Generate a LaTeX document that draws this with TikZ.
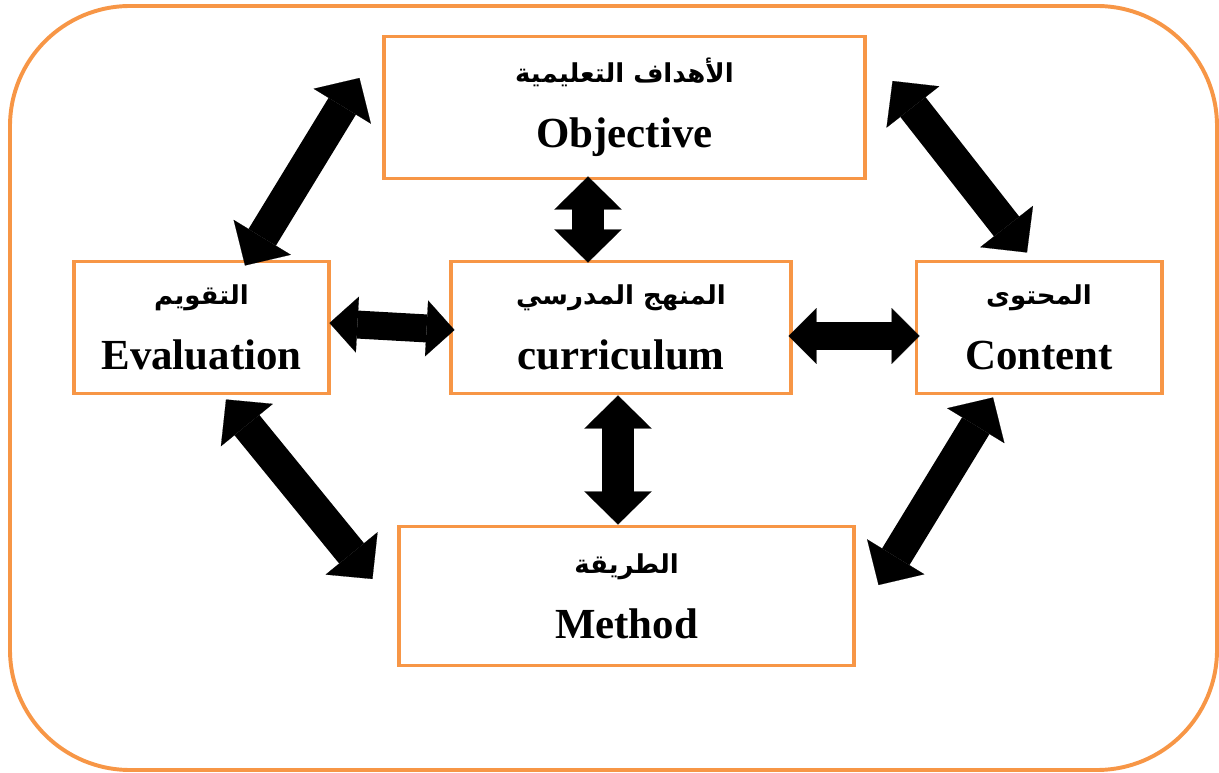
\documentclass[tikz,border=0pt]{standalone}
\usepackage{fontspec}
\setmainfont{Liberation Serif}
\newfontfamily\arabicfont[Script=Arabic]{DejaVu Sans}
\TeXXeTstate=1
\usetikzlibrary{arrows.meta,calc}

\definecolor{boxorange}{RGB}{247,150,70}

\tikzset{
  topic/.style={draw=boxorange, line width=2.8pt, align=center, inner sep=0pt,
    font=\bfseries\fontsize{30.5}{46}\selectfont},
  dblarrow/.style={line width=22.8pt, {Triangle[width=47.7pt, length=23.5pt, line width=0.1pt]}-{Triangle[width=47.7pt, length=23.5pt, line width=0.1pt]}},
  dblarrowsmall/.style={line width=19.9pt, {Triangle[width=39.8pt, length=19.9pt, line width=0.1pt]}-{Triangle[width=39.8pt, length=19.9pt, line width=0.1pt]}}
}

% Arabic line above the English one
\newcommand{\twolines}[2]{{\arabicfont\fontsize{18.5}{46}\selectfont\beginR #1\endR}\\#2}

\begin{document}
\begin{tikzpicture}[x=0.025cm, y=0.025cm]
  \useasboundingbox (0,0) rectangle (1219,772);

  % frame
  \draw[boxorange, line width=2.8pt, rounded corners=3cm] (10,2) rectangle (1217,766);

  % boxes
  \node[topic, minimum width=12cm, minimum height=3.55cm] (obj) at (624.5,664.5)
       {\twolines{الأهداف التعليمية}{Objective}};
  \node[topic, minimum width=6.375cm, minimum height=3.3cm] (eval) at (201.5,444.5)
       {\twolines{التقويم}{Evaluation}};
  \node[topic, minimum width=8.475cm, minimum height=3.3cm] (cur) at (621,444.5)
       {\twolines{المنهج المدرسي}{curriculum}};
  \node[topic, minimum width=6.125cm, minimum height=3.3cm] (cont) at (1039,444.5)
       {\twolines{المحتوى}{Content}};
  \node[topic, minimum width=11.35cm, minimum height=3.475cm] (meth) at (626.5,176)
       {\twolines{الطريقة}{Method}};

  % arrow ends
  \coordinate (oc1) at ($(obj.south)+(-36.5,4)$);
  \coordinate (oc2) at ($(cur.north)+(-33,-3)$);
  \coordinate (cm1) at ($(cur.south)+(-3,0)$);
  \coordinate (cm2) at ($(meth.north)+(-8.5,0)$);
  \coordinate (ec1) at ($(eval.east)+(-1.5,4.5)$);
  \coordinate (ec2) at ($(cur.west)+(5,-2.5)$);
  \coordinate (cc1) at ($(cur.east)+(-4,-8.5)$);
  \coordinate (cc2) at ($(cont.west)+(5,-8.5)$);
  \coordinate (eo1) at ($(eval.north)+(43.5,-6)$);
  \coordinate (eo2) at ($(obj.west)+(-23,29.5)$);
  \coordinate (oo1) at ($(obj.east)+(26,26.5)$);
  \coordinate (oo2) at ($(cont.north)+(-12,7)$);
  \coordinate (em1) at ($(eval.south)+(24.5,-4)$);
  \coordinate (em2) at ($(meth.west)+(-25,17)$);
  \coordinate (ct1) at ($(cont.south)+(-46,-2)$);
  \coordinate (ct2) at ($(meth.east)+(23,11)$);

  % arrows
  \draw[dblarrow] (oc1) -- (oc2);
  \draw[dblarrow] (cm1) -- (cm2);
  \draw[dblarrowsmall] (ec1) -- (ec2);
  \draw[dblarrowsmall] (cc1) -- (cc2);
  \draw[dblarrow] (eo1) -- (eo2);
  \draw[dblarrow] (oo1) -- (oo2);
  \draw[dblarrow] (em1) -- (em2);
  \draw[dblarrow] (ct1) -- (ct2);
\end{tikzpicture}
\end{document}
